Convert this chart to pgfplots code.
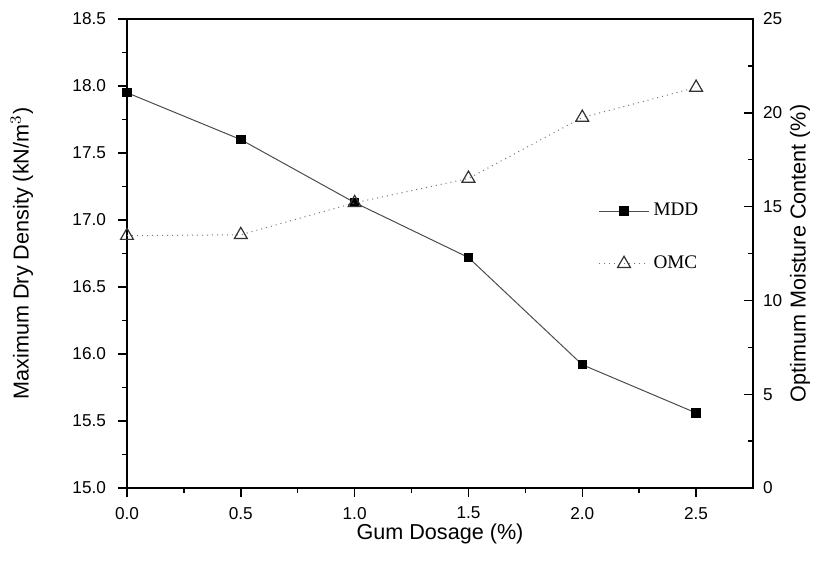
\documentclass[border=0pt]{standalone}
\usepackage{fontspec}
\setmainfont{Liberation Sans}
\newfontfamily\tnr{Liberation Serif}
\usepackage{pgfplots}
\pgfplotsset{compat=1.18}

\pgfplotstableread{
x    mdd    omc
0.0  17.95  13.45
0.5  17.60  13.50
1.0  17.13  15.20
1.5  16.72  16.50
2.0  15.92  19.75
2.5  15.56  21.35
}\gumdata

\begin{document}
\begin{tikzpicture}
\pgfplotsset{
  every axis/.append style={
    width=313pt, height=234.5pt, scale only axis,
    xmin=0, xmax=2.75,
    tick style={black, line width=0.7pt},
    major tick length=4.5pt, minor tick length=2.5pt,
    tick label style={font=\fontsize{8.6}{10}\selectfont},
    label style={font=\fontsize{10.8}{12}\selectfont},
    /pgf/number format/assume math mode=true,
    axis line style={line width=0.9pt},
  },
  mddstyle/.style={color=black!70, line width=0.5pt, mark=square*,
    mark size=2.1pt, mark options={solid, fill=black, draw=black}},
  omcstyle/.style={color=black!55, line width=0.5pt, dotted, mark=triangle,
    mark size=3.7pt, mark options={solid, draw=black!80, fill=white, line width=0.6pt}},
}
\begin{axis}[
  ymin=15, ymax=18.5,
  xtick={0,0.5,...,2.5}, minor x tick num=1,
  ytick={15,15.5,...,18.5}, minor y tick num=1,
  xtick pos=bottom, ytick pos=left,
  tick align=outside,
  xticklabel style={yshift=-1.5pt, /pgf/number format/.cd, fixed, fixed zerofill, precision=1},
  yticklabel style={xshift=-2.5pt, /pgf/number format/.cd, fixed, fixed zerofill, precision=1},
  xlabel={Gum Dosage (\%)},
  ylabel={Maximum Dry Density (kN/m$^{3}$)},
  xlabel style={at={(axis description cs:0.5,-0.097)}, anchor=center},
  ylabel style={at={(axis description cs:-0.168,0.5)}, anchor=center},
  clip=false,
]
\coordinate (o) at (rel axis cs:0,0);
\addplot[mddstyle] table[x=x, y=mdd] {\gumdata};
\end{axis}
\begin{axis}[
  ymin=0, ymax=25,
  axis y line*=right, axis x line=none,
  ytick={0,5,...,25}, minor y tick num=1,
  tick align=inside,
  yticklabel style={xshift=1.5pt},
  ylabel={Optimum Moisture Content (\%)},
  ylabel style={at={(axis description cs:1.075,0.5)}, anchor=center},
  clip=false,
  legend style={at={(0.743,0.625)}, anchor=north west, draw=none, fill=none,
    font=\tnr\fontsize{9.6}{11}\selectfont, row sep=14.5pt},
  legend cell align=left,
  legend image code/.code={\draw[mark repeat=2, mark phase=2]
    plot coordinates {(0pt,0pt) (12.5pt,0pt) (25pt,0pt)};},
]
\addlegendimage{mddstyle}
\addlegendentry{MDD}
\addplot[omcstyle] table[x=x, y=omc] {\gumdata};
\addlegendentry{OMC}
\end{axis}
\pgfresetboundingbox
\path (o) ++(-63.5pt,-37pt) rectangle ++(409pt,281pt);
\end{tikzpicture}
\end{document}
